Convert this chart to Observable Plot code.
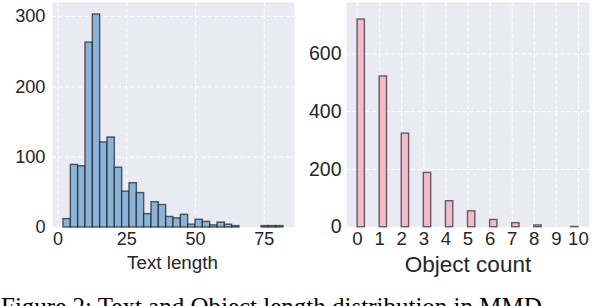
<!DOCTYPE html>
<html><head><meta charset="utf-8">
<script src="https://cdn.jsdelivr.net/npm/d3@7"></script>
<script src="https://cdn.jsdelivr.net/npm/@observablehq/plot@0.6"></script>
<style>
html,body{margin:0;padding:0;background:#fff;width:596px;height:306px;overflow:hidden;}
#left{position:absolute;left:0;top:0;}
#right{position:absolute;left:300px;top:0;}
#caption{position:absolute;left:1px;top:293px;font-family:"Liberation Serif","Times New Roman",serif;font-size:25px;white-space:nowrap;color:#000;line-height:normal}
</style></head><body>
<div id="left"></div><div id="right"></div>
<div id="caption">Figure 2: Text and Object length distribution in MMD</div>
<script>
// Left panel: text length histogram (30 bins over [2, 82])
const textLengthMin = 2;
const textLengthMax = 82;
const textLengthCounts = [12, 89, 87, 263, 303, 121, 128, 85, 51, 63, 49, 19, 36, 32, 15, 13, 18, 4, 11, 8, 3, 7, 4, 2, 0, 0, 0, 2, 2, 2];
const textTicksX = [0, 25, 50, 75];
const textTicksY = [0, 100, 200, 300];
const textLabel = "Text length";

// Right panel: object count histogram (30 bins over [0, 10])
const objectValues = [0, 1, 2, 3, 4, 5, 6, 7, 8, 9, 10];
const objectCounts = [719, 522, 324, 188, 90, 55, 25, 14, 6, 0, 1];
const objectTicksX = [0, 1, 2, 3, 4, 5, 6, 7, 8, 9, 10];
const objectTicksY = [0, 200, 400, 600];
const objectLabel = "Object count";
const binCount = 30;

const textW = (textLengthMax - textLengthMin) / binCount;
const textBins = textLengthCounts.map((c, i) => ({x1: textLengthMin + i * textW, x2: textLengthMin + (i + 1) * textW, count: c}));

const objMin = objectValues[0], objMax = objectValues[objectValues.length - 1];
const objW = (objMax - objMin) / binCount;
const objectBins = objectValues.map((v, i) => {
  const b = Math.min(Math.floor((v - objMin) / objW + 1e-9), binCount - 1);
  return {x1: objMin + b * objW, x2: objMin + (b + 1) * objW, count: objectCounts[i]};
});

const font = "'Liberation Sans', Arial, Helvetica, sans-serif";
const ink = "#262626";
const bg = "#EAEAF2";
const dash = "4,2.5";

const left = Plot.plot({
  width: 300, height: 285,
  marginLeft: 52, marginRight: 6, marginTop: 2, marginBottom: 58,
  style: {fontFamily: font, color: ink, background: "transparent", overflow: "visible"},
  x: {domain: [-2, 86], label: null},
  y: {domain: [0, 320], label: null},
  marks: [
    Plot.frame({fill: bg, stroke: null}),
    Plot.gridX(textTicksX, {stroke: "#fff", strokeOpacity: 1, strokeWidth: 1, strokeDasharray: dash}),
    Plot.gridY(textTicksY, {stroke: "#fff", strokeOpacity: 1, strokeWidth: 1, strokeDasharray: dash}),
    Plot.rectY(textBins, {x1: "x1", x2: "x2", y: "count", fill: "#8AB4D9", stroke: "#222", strokeOpacity: 0.72, strokeWidth: 1.4}),
    Plot.axisX(textTicksX, {tickSize: 0, tickPadding: 5, fontSize: 18, label: null}),
    Plot.axisY(textTicksY, {tickSize: 0, tickPadding: 7, fontSize: 18.2, label: null}),
    Plot.text([textLabel], {text: d => d, frameAnchor: "bottom", lineAnchor: "top", dy: 28, dx: -1, fontSize: 18.8, fill: ink})
  ]
});
document.getElementById("left").appendChild(left);

const right = Plot.plot({
  width: 296, height: 285,
  marginLeft: 46, marginRight: 7, marginTop: 2, marginBottom: 58.3,
  style: {fontFamily: font, color: ink, background: "transparent", overflow: "visible"},
  x: {domain: [-0.5, 10.5], label: null},
  y: {domain: [0, 778], label: null},
  marks: [
    Plot.frame({fill: bg, stroke: null}),
    Plot.gridX(objectTicksX, {stroke: "#fff", strokeOpacity: 1, strokeWidth: 1, strokeDasharray: dash}),
    Plot.gridY(objectTicksY, {stroke: "#fff", strokeOpacity: 1, strokeWidth: 1, strokeDasharray: dash}),
    Plot.rectY(objectBins, {x1: "x1", x2: "x2", y: "count", fill: "#F0BCCB", stroke: "#222", strokeOpacity: 0.68, strokeWidth: 1.4}),
    Plot.axisX(objectTicksX, {tickSize: 0, tickPadding: 5, fontSize: 18.6, label: null}),
    Plot.axisY(objectTicksY, {tickSize: 0, tickPadding: 5, fontSize: 19.5, label: null}),
    Plot.text([objectLabel], {text: d => d, frameAnchor: "bottom", lineAnchor: "top", dy: 29.3, fontSize: 22.5, fill: ink})
  ]
});
document.getElementById("right").appendChild(right);
</script>
</body></html>
